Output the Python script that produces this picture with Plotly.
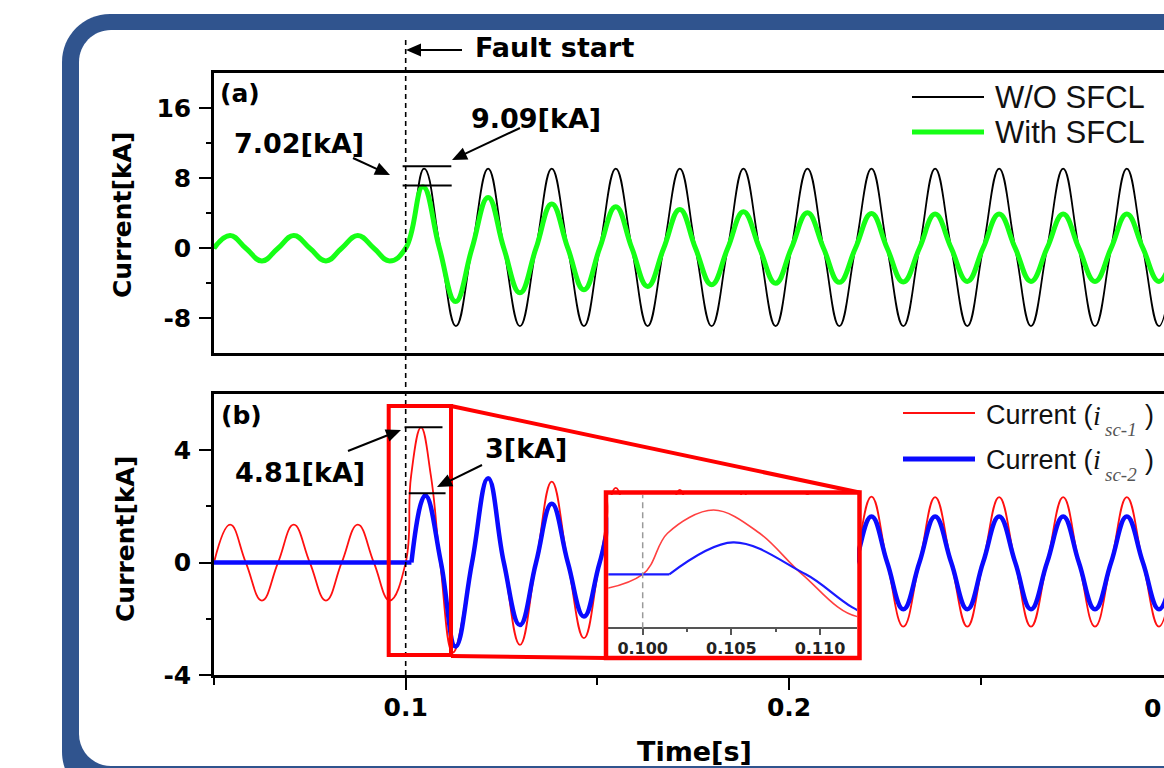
import math
import plotly.graph_objects as go

# ---------------- data ----------------
# time grid before the fault (zero crossings / peaks / troughs), s
t_pre = [0.05, 0.0542, 0.0583, 0.0625, 0.0667, 0.0708, 0.075, 0.0792,
         0.0833, 0.0875, 0.0917, 0.0958, 0.1]
wo_pre = [0, 1.45, 0, -1.45, 0, 1.45, 0, -1.45, 0, 1.45, 0, -1.45, 0]
with_pre = [0, 1.45, 0, -1.45, 0, 1.45, 0, -1.45, 0, 1.45, 0, -1.45, 0]
isc1_pre = [0, 1.35, 0, -1.35, 0, 1.35, 0, -1.35, 0, 1.35, 0, -1.35, 0]
isc2_pre_t = [0.05, 0.1015]
isc2_pre = [0, 0]

# first cycle after the fault
wo_first_t = [0.1048, 0.1090, 0.1131]
wo_first = [9.09, 0, -8.9]
with_first_t = [0.1045, 0.1088, 0.1130]
with_first = [7.02, 0, -6.1]
isc1_first_t = [0.1014, 0.1040, 0.1066, 0.1090, 0.1123]
isc1_first = [3.07, 4.81, 3.07, 0, -3.2]
isc2_first_t = [0.1015, 0.1051, 0.1092, 0.1130]
isc2_first = [0, 2.39, 0, -2.99]

# following cycles (zero, peak, zero, trough ...)
t_cycle = [0.1173, 0.1215, 0.1256, 0.1298, 0.1340, 0.1381, 0.1423, 0.1465,
           0.1506, 0.1548, 0.1590, 0.1631, 0.1673, 0.1715, 0.1756, 0.1798,
           0.1840, 0.1881, 0.1923, 0.1965, 0.2006, 0.2048, 0.2090, 0.2131,
           0.2173, 0.2215, 0.2256, 0.2298, 0.2340, 0.2381, 0.2423, 0.2465,
           0.2506, 0.2548, 0.2590, 0.2631, 0.2673, 0.2715, 0.2756, 0.2798,
           0.2840, 0.2881, 0.2923, 0.2965, 0.3006]
wo_cycle = [0, 9.09, 0, -8.9, 0, 9.09, 0, -8.9, 0, 9.09, 0, -8.9, 0, 9.09, 0, -8.9,
            0, 9.09, 0, -8.9, 0, 9.09, 0, -8.9, 0, 9.09, 0, -8.9, 0, 9.09, 0, -8.9,
            0, 9.09, 0, -8.9, 0, 9.09, 0, -8.9, 0, 9.09, 0, -8.9, 0]
with_cycle = [0, 5.8, 0, -5.1, 0, 5.05, 0, -4.75, 0, 4.72, 0, -4.36, 0, 4.43, 0, -4.17,
              0, 4.15, 0, -4.0, 0, 4.04, 0, -3.9, 0, 3.97, 0, -3.85, 0, 3.89, 0, -3.79,
              0, 3.89, 0, -3.79, 0, 3.89, 0, -3.79, 0, 3.89, 0, -3.79, 0]
isc1_cycle = [0, 3.0, 0, -2.93, 0, 2.88, 0, -2.69, 0, 2.66, 0, -2.55, 0, 2.59, 0, -2.45,
              0, 2.5, 0, -2.38, 0, 2.42, 0, -2.32, 0, 2.35, 0, -2.28, 0, 2.33, 0, -2.28,
              0, 2.33, 0, -2.28, 0, 2.33, 0, -2.28, 0, 2.33, 0, -2.28, 0]
isc2_cycle = [0, 3.0, 0, -2.22, 0, 2.09, 0, -1.92, 0, 1.85, 0, -1.8, 0, 1.75, 0, -1.72,
              0, 1.7, 0, -1.68, 0, 1.66, 0, -1.66, 0, 1.64, 0, -1.66, 0, 1.64, 0, -1.66,
              0, 1.64, 0, -1.66, 0, 1.64, 0, -1.66, 0, 1.64, 0, -1.66, 0]

# peak markers and labels
peak_a = [9.35, 7.15]
peak_b = [4.82, 2.47]
labels_a = ["9.09[kA]", "7.02[kA]"]
labels_b = ["4.81[kA]", "3[kA]"]
fault_time = 0.1

# tick labels
ya_ticks = [-8, 0, 8, 16]
ya_text = ["-8", "0", "8", "16"]
yb_ticks = [-4, 0, 4]
yb_text = ["-4", "0", "4"]
xb_ticks = [0.1, 0.2]
xb_text = ["0.1", "0.2"]
inset_ticks = [0.1, 0.105, 0.11]
inset_text = ["0.100", "0.105", "0.110"]

# ---------------- layout constants ----------------
W, H = 1164, 768
L, R, T, B = 214, 1164, 73, 675
X0, X1 = 0.05, 0.2978


def PX(x):
    return (x - L) / (R - L)


def PY(y):
    return (B - y) / (B - T)


def tx(t):  # data time -> paper x
    return (t - X0) / (X1 - X0)


def rrect(x0, y0, x1, y1, r):
    k = 0.5523 * r
    pts = [
        f"M{PX(x0 + r)},{PY(y0)}",
        f"L{PX(x1 - r)},{PY(y0)}",
        f"C{PX(x1 - r + k)},{PY(y0)} {PX(x1)},{PY(y0 + r - k)} {PX(x1)},{PY(y0 + r)}",
        f"L{PX(x1)},{PY(y1 - r)}",
        f"C{PX(x1)},{PY(y1 - r + k)} {PX(x1 - r + k)},{PY(y1)} {PX(x1 - r)},{PY(y1)}",
        f"L{PX(x0 + r)},{PY(y1)}",
        f"C{PX(x0 + r - k)},{PY(y1)} {PX(x0)},{PY(y1 - r + k)} {PX(x0)},{PY(y1 - r)}",
        f"L{PX(x0)},{PY(y0 + r)}",
        f"C{PX(x0)},{PY(y0 + r - k)} {PX(x0 + r - k)},{PY(y0)} {PX(x0 + r)},{PY(y0)}",
        "Z",
    ]
    return " ".join(pts)


BOLD = "DejaVu Sans"
REG = "Liberation Sans"
SERIF = "Liberation Serif"
SM = 1.25

fig = go.Figure()

# (a)
fig.add_trace(go.Scatter(x=t_pre + wo_first_t + t_cycle, y=wo_pre + wo_first + wo_cycle,
                         xaxis="x", yaxis="y", mode="lines",
                         line=dict(color="black", width=1.8, shape="spline", smoothing=SM)))
fig.add_trace(go.Scatter(x=t_pre + with_first_t + t_cycle, y=with_pre + with_first + with_cycle,
                         xaxis="x", yaxis="y", mode="lines",
                         line=dict(color="#16ff16", width=5, shape="spline", smoothing=SM)))
# (b)
isc1_t = t_pre + isc1_first_t + t_cycle
isc1_v = isc1_pre + isc1_first + isc1_cycle
isc2_t = isc2_first_t + t_cycle
isc2_v = isc2_first + isc2_cycle
fig.add_trace(go.Scatter(x=isc1_t, y=isc1_v, xaxis="x2", yaxis="y2", mode="lines",
                         line=dict(color="#ff1010", width=1.8, shape="spline", smoothing=SM)))
fig.add_trace(go.Scatter(x=isc2_pre_t, y=isc2_pre, xaxis="x2", yaxis="y2", mode="lines",
                         line=dict(color="#0a0aff", width=4.5)))
fig.add_trace(go.Scatter(x=isc2_t, y=isc2_v, xaxis="x2", yaxis="y2", mode="lines",
                         line=dict(color="#0a0aff", width=4.5, shape="spline", smoothing=SM)))
# inset
fig.add_trace(go.Scatter(x=isc1_t, y=isc1_v, xaxis="x3", yaxis="y3", mode="lines",
                         line=dict(color="#ff4040", width=1.6, shape="spline")))
fig.add_trace(go.Scatter(x=isc2_pre_t, y=isc2_pre, xaxis="x3", yaxis="y3", mode="lines",
                         line=dict(color="#1a1aff", width=2.2)))
fig.add_trace(go.Scatter(x=isc2_t, y=isc2_v, xaxis="x3", yaxis="y3", mode="lines",
                         line=dict(color="#1a1aff", width=2.2, shape="spline")))

tickfont = dict(family=BOLD, size=25, color="black", weight="bold")
xline = dict(showline=True, linecolor="black", linewidth=2.5, mirror=True,
             showgrid=False, zeroline=False)
yline = dict(showline=True, linecolor="black", linewidth=2.5, mirror=False,
             showgrid=False, zeroline=False)

fig.update_layout(
    width=W, height=H,
    margin=dict(l=L, r=W - R, t=T, b=H - B, pad=0),
    paper_bgcolor="#ffffff", plot_bgcolor="white",
    showlegend=False,
    xaxis=dict(domain=[0, 1], range=[X0, X1], anchor="y", ticks="",
               showticklabels=False, **xline),
    yaxis=dict(domain=[PY(353.3), 1], range=[-12, 20], anchor="x",
               tickvals=ya_ticks, ticktext=ya_text, ticklabelstandoff=3,
               ticks="outside", ticklen=12, tickwidth=2, tickcolor="black",
               minor=dict(ticks="outside", ticklen=5, tickwidth=2, tickcolor="black",
                          tickvals=[-4, 4, 12]),
               tickfont=tickfont, **yline),
    xaxis2=dict(domain=[0, 1], range=[X0, X1], anchor="y2",
                tickvals=xb_ticks, ticktext=xb_text, ticklabelstandoff=-4,
                ticks="outside", ticklen=12, tickwidth=2, tickcolor="black",
                minor=dict(ticks="outside", ticklen=7, tickwidth=2, tickcolor="black",
                           tickvals=[0.05, 0.15, 0.25]),
                tickfont=tickfont, **xline),
    yaxis2=dict(domain=[0, PY(394)], range=[-4, 6], anchor="x2",
                tickvals=yb_ticks, ticktext=yb_text, ticklabelstandoff=3,
                ticks="outside", ticklen=12, tickwidth=2, tickcolor="black",
                minor=dict(ticks="outside", ticklen=5, tickwidth=2, tickcolor="black",
                           tickvals=[-2, 2]),
                tickfont=tickfont, **yline),
    xaxis3=dict(domain=[PX(608.3), PX(857)], range=[0.09806, 0.11209], anchor="free",
                position=PY(628.3), showline=True, linecolor="#555555", linewidth=1.5,
                showgrid=False, zeroline=False, ticks="outside", ticklen=6, tickwidth=1.5,
                tickcolor="#555555", tickvals=inset_ticks, ticktext=inset_text,
                minor=dict(ticks="outside", ticklen=3, tickwidth=1.5, tickcolor="#555555",
                           tickvals=[0.1025, 0.1075]),
                tickfont=dict(family=BOLD, size=16, color="#222222", weight="bold")),
    yaxis3=dict(domain=[PY(658), PY(495)], range=[-6.26, 5.93], anchor="x3",
                visible=False, showgrid=False, zeroline=False),
)

shapes = []
# outer frame
shapes.append(dict(type="path", xref="paper", yref="paper", layer="below",
                   path=rrect(62, 14, 1240, 800, 48), fillcolor="#30548e",
                   line=dict(width=0)))
shapes.append(dict(type="path", xref="paper", yref="paper", layer="below",
                   path=rrect(79, 30, 1224, 766, 32), fillcolor="white",
                   line=dict(width=0)))
# fault start dashed line
shapes.append(dict(type="line", xref="paper", yref="paper", x0=tx(fault_time), x1=tx(fault_time),
                   y0=PY(675), y1=PY(38), line=dict(color="black", width=1.6, dash="5px,4px")))
# peak markers
shapes.append(dict(type="line", xref="x", yref="y", x0=0.0992, x1=0.1119,
                   y0=peak_a[0], y1=peak_a[0], line=dict(color="black", width=2)))
shapes.append(dict(type="line", xref="x", yref="y", x0=0.0992, x1=0.1120,
                   y0=peak_a[1], y1=peak_a[1], line=dict(color="black", width=2)))
shapes.append(dict(type="line", xref="x2", yref="y2", x0=0.0997, x1=0.1096,
                   y0=peak_b[0], y1=peak_b[0], line=dict(color="black", width=2)))
shapes.append(dict(type="line", xref="x2", yref="y2", x0=0.1008, x1=0.1104,
                   y0=peak_b[1], y1=peak_b[1], line=dict(color="black", width=2)))
# inset dashed
shapes.append(dict(type="line", xref="x3", yref="y3", x0=fault_time, x1=fault_time,
                   y0=-4.04, y1=5.93, line=dict(color="#9a9a9a", width=1.5, dash="6px,4px")))
# zoom rectangle, inset box and connectors
RED = "#ff0000"
shapes.append(dict(type="rect", xref="paper", yref="paper", x0=PX(388.7), x1=PX(451),
                   y0=PY(655), y1=PY(406), line=dict(color=RED, width=4)))
shapes.append(dict(type="rect", xref="paper", yref="paper", x0=PX(606), x1=PX(859.5),
                   y0=PY(658), y1=PY(492.5), line=dict(color=RED, width=4.5)))
shapes.append(dict(type="line", xref="paper", yref="paper", x0=PX(451), x1=PX(859.5),
                   y0=PY(406), y1=PY(492.5), line=dict(color=RED, width=4)))
shapes.append(dict(type="line", xref="paper", yref="paper", x0=PX(451), x1=PX(606),
                   y0=PY(656), y1=PY(658), line=dict(color=RED, width=4)))
# legend lines
shapes.append(dict(type="line", xref="paper", yref="paper", x0=PX(912), x1=PX(984),
                   y0=PY(97), y1=PY(97), line=dict(color="black", width=2)))
shapes.append(dict(type="line", xref="paper", yref="paper", x0=PX(912), x1=PX(984),
                   y0=PY(132), y1=PY(132), line=dict(color="#16ff16", width=5)))
shapes.append(dict(type="line", xref="paper", yref="paper", x0=PX(903), x1=PX(975),
                   y0=PY(413), y1=PY(413), line=dict(color="#ff1010", width=2)))
shapes.append(dict(type="line", xref="paper", yref="paper", x0=PX(903), x1=PX(975),
                   y0=PY(459), y1=PY(459), line=dict(color="#0a0aff", width=5)))


def arrow(hx, hy, tx_, ty_, head=15, half=6.5):
    dx, dy = hx - tx_, hy - ty_
    n = math.hypot(dx, dy)
    ux, uy = dx / n, dy / n
    bx, by = hx - ux * head, hy - uy * head
    shapes.append(dict(type="line", xref="paper", yref="paper", x0=PX(tx_), y0=PY(ty_),
                       x1=PX(bx + ux * 2), y1=PY(by + uy * 2),
                       line=dict(color="black", width=2)))
    p1 = (bx - uy * half, by + ux * half)
    p2 = (bx + uy * half, by - ux * half)
    shapes.append(dict(type="path", xref="paper", yref="paper",
                       path=f"M{PX(hx)},{PY(hy)} L{PX(p1[0])},{PY(p1[1])} "
                            f"L{PX(p2[0])},{PY(p2[1])} Z",
                       fillcolor="black", line=dict(width=0)))


arrow(406, 50, 462, 50)
arrow(390, 175, 353, 158)
arrow(452, 160, 520, 128)
arrow(401, 430, 348, 451)
arrow(437, 487, 482, 465)

fig.update_layout(shapes=shapes)

ann = []


def text(s, x, y, size=27, xanchor="left", family=BOLD, weight="bold", angle=0,
         color="black", style="normal"):
    ann.append(dict(text=s, xref="paper", yref="paper", x=PX(x), y=PY(y), xanchor=xanchor,
                    yanchor="middle", showarrow=False, textangle=angle,
                    font=dict(family=family, size=size, color=color, weight=weight,
                              style=style)))


text("Fault start", 473, 48)
text("(a)", 218, 93, size=25)
text("(b)", 219, 415, size=25)
text(labels_a[1], 232, 143)
text(labels_a[0], 469, 118)
text(labels_b[0], 233, 472)
text(labels_b[1], 483, 448)
text("Time[s]", 694.5, 751, xanchor="center")
text("Current[kA]", 122, 215, size=25, xanchor="center", angle=-90)
text("Current[kA]", 125, 539, size=25, xanchor="center", angle=-90)
# only the leading "0" of the 0.3 tick label is visible at the right edge
text("0", 1163, 708, size=25, xanchor="right")
text("W/O SFCL", 993, 97, size=31, family=REG, weight="normal", color="#111111")
text("With SFCL", 993, 132, size=31, family=REG, weight="normal", color="#111111")

# legend of (b): "Current (i_sc-1)" built from pieces
for yc, sub in [(415, "sc-1"), (460, "sc-2")]:
    text("Current (", 984, yc, size=27, family=REG, weight="normal", color="#111111")
    text("i", 1091, yc, size=28, family=SERIF, weight="normal", color="#111111",
         style="italic")
    text(sub, 1103, yc + 14, size=19, family=SERIF, weight="normal", color="#555555",
         style="italic")
    text(")", 1143, yc, size=27, family=REG, weight="normal", color="#111111")

fig.update_layout(annotations=ann)

fig.write_html("out.html")
